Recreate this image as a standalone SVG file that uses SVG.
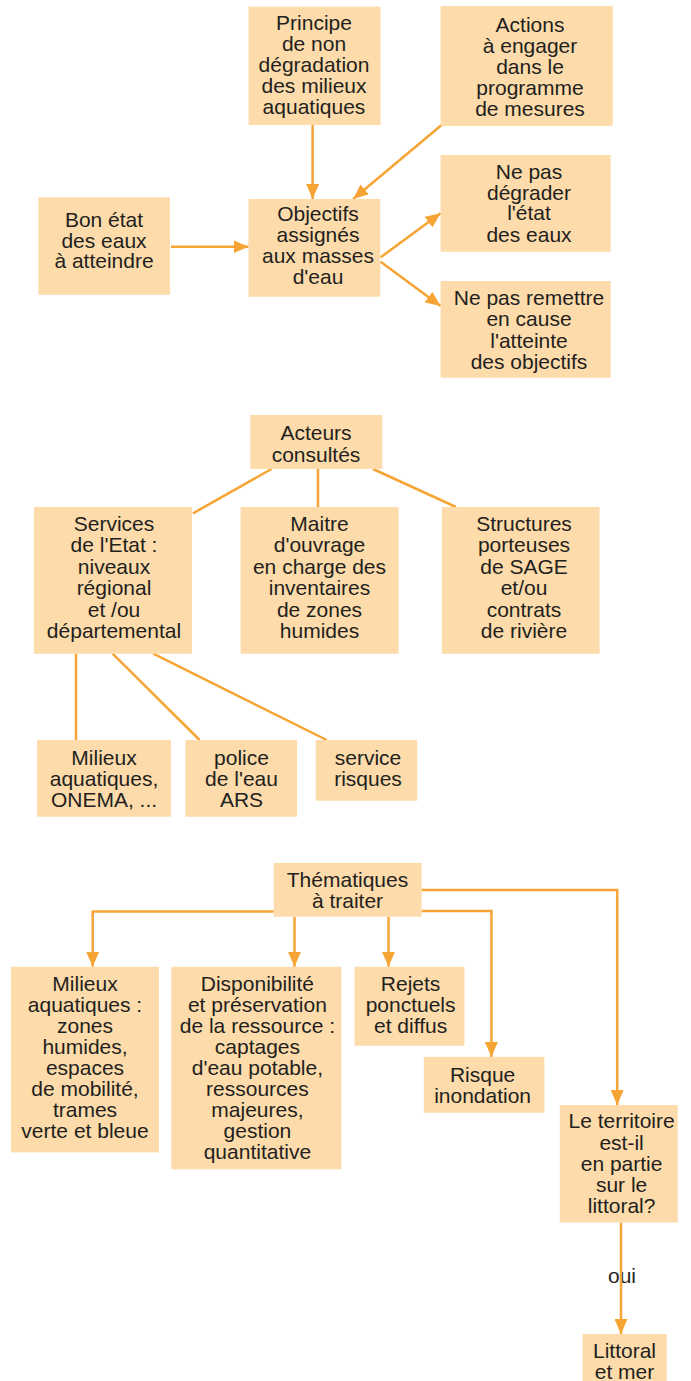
<svg xmlns="http://www.w3.org/2000/svg" width="691" height="1381" viewBox="0 0 691 1381">
<style>
.box{fill:#FDDBAA;stroke:none}
.t{font-family:"Liberation Sans",Arial,Helvetica,sans-serif;font-size:21px;fill:#231F20;text-anchor:middle}
.c{fill:none;stroke:#F6A535;stroke-width:2.5}
</style>
<defs>
<marker id="ah" markerUnits="userSpaceOnUse" markerWidth="15" markerHeight="13" refX="15" refY="6.5" orient="auto">
<path d="M0,0 L15,6.5 L0,13 z" fill="#F6A535"/>
</marker>
</defs>
<rect width="691" height="1381" fill="#FFFFFF"/>

<g id="oui-label"><text class="t" x="622" y="1283">oui</text></g>

<g id="connectors">
<path class="c" d="M312.6,125 L312.6,199" marker-end="url(#ah)"/>
<path class="c" d="M442.8,124 L353.2,199" marker-end="url(#ah)"/>
<path class="c" d="M171,246.7 L248.5,246.7" marker-end="url(#ah)"/>
<path class="c" d="M380.6,257.3 L440.6,213.3" marker-end="url(#ah)"/>
<path class="c" d="M380.6,261.7 L440.6,306" marker-end="url(#ah)"/>
<path class="c" d="M271.5,469 L193,513.3"/>
<path class="c" d="M318,469 L318,507"/>
<path class="c" d="M373,469 L456,507"/>
<path class="c" d="M76,653.7 L76,740"/>
<path class="c" d="M112.6,653.7 L199.6,740"/>
<path class="c" d="M153.2,653.7 L326.7,740"/>
<path class="c" d="M273.7,911.6 L92.7,911.6 L92.7,966.8" marker-end="url(#ah)"/>
<path class="c" d="M294.5,916.7 L294.5,966.8" marker-end="url(#ah)"/>
<path class="c" d="M388.5,916.7 L388.5,966.8" marker-end="url(#ah)"/>
<path class="c" d="M421.6,911 L491.4,911 L491.4,1056.9" marker-end="url(#ah)"/>
<path class="c" d="M421.6,890 L617.2,890 L617.2,1105" marker-end="url(#ah)"/>
<path class="c" d="M621,1222.5 L621,1334" marker-end="url(#ah)"/>
</g>

<g id="principe"><rect class="box" x="248.6" y="6.7" width="132" height="118.3"/>
<text class="t"><tspan x="314" y="30">Principe</tspan><tspan x="314" y="51">de non</tspan><tspan x="314" y="72">dégradation</tspan><tspan x="314" y="93">des milieux</tspan><tspan x="314" y="114">aquatiques</tspan></text></g>

<g id="actions"><rect class="box" x="440.6" y="6" width="172.2" height="120"/>
<text class="t"><tspan x="530" y="32">Actions</tspan><tspan x="530" y="53">à engager</tspan><tspan x="530" y="74">dans le</tspan><tspan x="530" y="95">programme</tspan><tspan x="530" y="116">de mesures</tspan></text></g>

<g id="bonetat"><rect class="box" x="38.4" y="197.3" width="131.6" height="97.4"/>
<text class="t"><tspan x="104" y="227">Bon état</tspan><tspan x="104" y="247.5">des eaux</tspan><tspan x="104" y="268">à atteindre</tspan></text></g>

<g id="objectifs"><rect class="box" x="248.4" y="199" width="131.8" height="97.7"/>
<text class="t"><tspan x="318" y="221">Objectifs</tspan><tspan x="318" y="242">assignés</tspan><tspan x="318" y="263">aux masses</tspan><tspan x="318" y="283.5">d'eau</tspan></text></g>

<g id="nepasdegrader"><rect class="box" x="440.6" y="155" width="170" height="96.7"/>
<text class="t"><tspan x="529" y="178.5">Ne pas</tspan><tspan x="529" y="199.5">dégrader</tspan><tspan x="529" y="220">l'état</tspan><tspan x="529" y="241.5">des eaux</tspan></text></g>

<g id="nepasremettre"><rect class="box" x="440.6" y="281" width="170" height="96.7"/>
<text class="t"><tspan x="529" y="305">Ne pas remettre</tspan><tspan x="529" y="326">en cause</tspan><tspan x="529" y="347.5">l'atteinte</tspan><tspan x="529" y="368.5">des objectifs</tspan></text></g>

<g id="acteurs"><rect class="box" x="250.3" y="415" width="132" height="54"/>
<text class="t"><tspan x="316" y="440">Acteurs</tspan><tspan x="316" y="461.5">consultés</tspan></text></g>

<g id="services"><rect class="box" x="34" y="507" width="158" height="146.7"/>
<text class="t"><tspan x="114" y="531">Services</tspan><tspan x="114" y="552">de l'Etat :</tspan><tspan x="114" y="573.5">niveaux</tspan><tspan x="114" y="595">régional</tspan><tspan x="114" y="616.5">et /ou</tspan><tspan x="114" y="637.5">départemental</tspan></text></g>

<g id="maitre"><rect class="box" x="240.6" y="507" width="158" height="146.7"/>
<text class="t"><tspan x="319.5" y="531">Maitre</tspan><tspan x="319.5" y="552">d'ouvrage</tspan><tspan x="319.5" y="573.5">en charge des</tspan><tspan x="319.5" y="595">inventaires</tspan><tspan x="319.5" y="616.5">de zones</tspan><tspan x="319.5" y="637.5">humides</tspan></text></g>

<g id="structures"><rect class="box" x="442" y="507" width="157.6" height="146.7"/>
<text class="t"><tspan x="524" y="531">Structures</tspan><tspan x="524" y="552">porteuses</tspan><tspan x="524" y="573.5">de SAGE</tspan><tspan x="524" y="595">et/ou</tspan><tspan x="524" y="616.5">contrats</tspan><tspan x="524" y="637.5">de rivière</tspan></text></g>

<g id="milieux-onema"><rect class="box" x="37" y="740" width="134" height="76.7"/>
<text class="t"><tspan x="104" y="764.5">Milieux</tspan><tspan x="104" y="785.5">aquatiques,</tspan><tspan x="104" y="806.5">ONEMA, ...</tspan></text></g>

<g id="police"><rect class="box" x="185.4" y="740" width="111.7" height="76.7"/>
<text class="t"><tspan x="241.5" y="764.5">police</tspan><tspan x="241.5" y="785.5">de l'eau</tspan><tspan x="241.5" y="806.5">ARS</tspan></text></g>

<g id="servicerisques"><rect class="box" x="315.7" y="740" width="101.5" height="60.7"/>
<text class="t"><tspan x="368" y="764.5">service</tspan><tspan x="368" y="785.5">risques</tspan></text></g>

<g id="thematiques"><rect class="box" x="273.7" y="862.9" width="147.9" height="53.8"/>
<text class="t"><tspan x="347.5" y="887">Thématiques</tspan><tspan x="347.5" y="908">à traiter</tspan></text></g>

<g id="milieux-aquatiques"><rect class="box" x="11" y="966.8" width="148" height="185.6"/>
<text class="t"><tspan x="85" y="990.5">Milieux</tspan><tspan x="85" y="1011.6">aquatiques :</tspan><tspan x="85" y="1032.7">zones</tspan><tspan x="85" y="1053.8">humides,</tspan><tspan x="85" y="1074.9">espaces</tspan><tspan x="85" y="1096">de mobilité,</tspan><tspan x="85" y="1117.1">trames</tspan><tspan x="85" y="1138.2">verte et bleue</tspan></text></g>

<g id="disponibilite"><rect class="box" x="171.3" y="966.8" width="170" height="202.5"/>
<text class="t"><tspan x="257.4" y="990.5">Disponibilité</tspan><tspan x="257.4" y="1011.6">et préservation</tspan><tspan x="257.4" y="1032.7">de la ressource :</tspan><tspan x="257.4" y="1053.8">captages</tspan><tspan x="257.4" y="1074.9">d'eau potable,</tspan><tspan x="257.4" y="1096">ressources</tspan><tspan x="257.4" y="1117.1">majeures,</tspan><tspan x="257.4" y="1138.2">gestion</tspan><tspan x="257.4" y="1159.3">quantitative</tspan></text></g>

<g id="rejets"><rect class="box" x="354.5" y="966.8" width="110" height="78.9"/>
<text class="t"><tspan x="410.6" y="990.5">Rejets</tspan><tspan x="410.6" y="1011.6">ponctuels</tspan><tspan x="410.6" y="1032.7">et diffus</tspan></text></g>

<g id="risque"><rect class="box" x="423.8" y="1056.9" width="120.6" height="55.9"/>
<text class="t"><tspan x="482.6" y="1082">Risque</tspan><tspan x="482.6" y="1103">inondation</tspan></text></g>

<g id="territoire"><rect class="box" x="559.8" y="1105" width="117.9" height="117.5"/>
<text class="t"><tspan x="621.6" y="1128.4">Le territoire</tspan><tspan x="621.6" y="1149.5">est-il</tspan><tspan x="621.6" y="1170.6">en partie</tspan><tspan x="621.6" y="1191.7">sur le</tspan><tspan x="621.6" y="1212.8">littoral?</tspan></text></g>

<g id="littoral"><rect class="box" x="582.5" y="1334" width="84.3" height="50"/>
<text class="t"><tspan x="624.5" y="1358">Littoral</tspan><tspan x="624.5" y="1379">et mer</tspan></text></g>
</svg>
